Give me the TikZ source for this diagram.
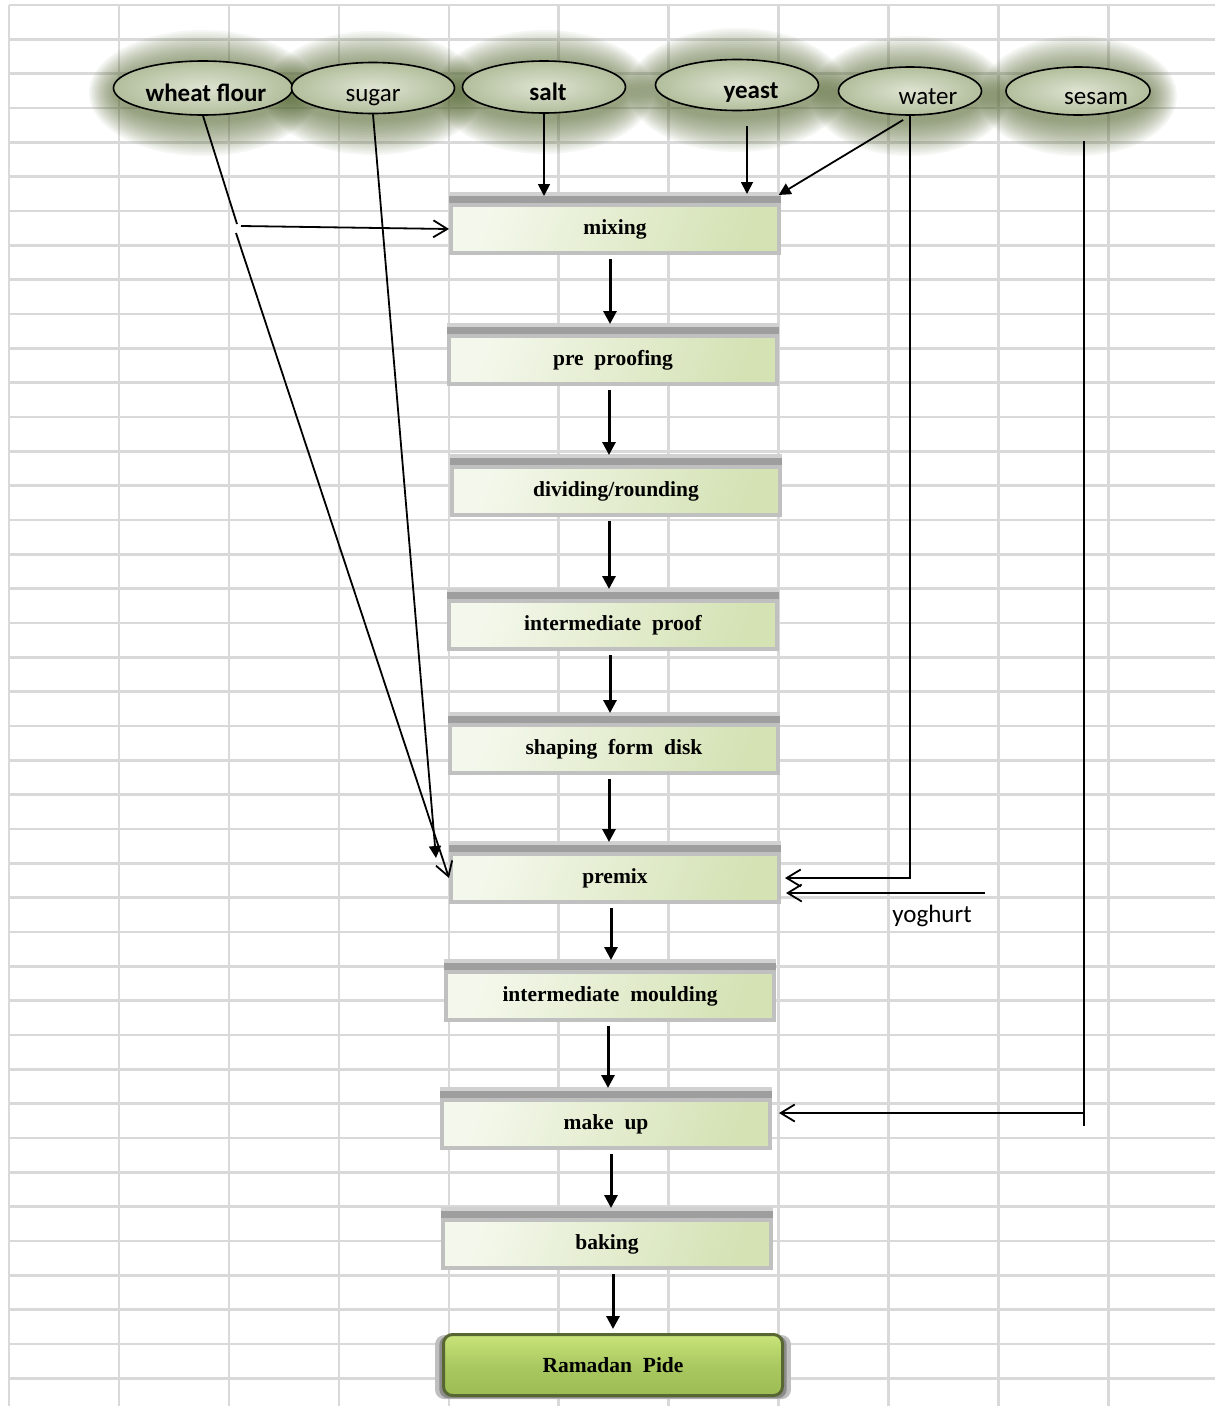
\documentclass[tikz,border=0pt]{standalone}
\usepackage{fontspec}
\setmainfont{Liberation Serif}
\newfontfamily\ingfont{Carlito}
\usetikzlibrary{arrows.meta,shapes.geometric,shadows,backgrounds}

\definecolor{gridgray}{RGB}{217,217,217}
\definecolor{haloolive}{RGB}{92,110,58}
\definecolor{ovalin}{RGB}{222,228,210}
\definecolor{ovalout}{RGB}{178,190,156}
\definecolor{boxedge}{RGB}{192,192,192}
\definecolor{boxlight}{RGB}{244,248,236}
\definecolor{boxdark}{RGB}{212,226,180}
\definecolor{pidetop}{RGB}{200,228,122}
\definecolor{pidemid}{RGB}{170,201,96}
\definecolor{pidebot}{RGB}{156,188,84}
\definecolor{pideedge}{RGB}{88,102,52}

\begin{document}
\begin{tikzpicture}[
  x=1pt, y=-1pt,
  gridline/.style={draw=gridgray,line width=2.6pt},
  ingredient/.style={ellipse,draw,line width=1.6pt,inner sep=0pt,
    inner color=ovalin,outer color=ovalout,
    text height=26pt,text depth=0pt,
    font=\ingfont\fontsize{25}{28}\selectfont},
  stage/.style={rectangle,draw=boxedge,line width=4pt,inner sep=0pt,
    minimum width=328pt,minimum height=48pt,
    top color=boxlight,bottom color=boxdark,shading angle=70,
    font=\bfseries\fontsize{21.5}{24}\selectfont,
    general shadow={fill=black!18,shadow scale=1.012,shadow yshift=13pt},
    general shadow={fill=black!38,shadow scale=1.012,shadow yshift=9pt}},
  product/.style={rectangle,rounded corners=9pt,draw=pideedge,line width=3pt,
    inner sep=0pt,minimum width=339pt,minimum height=61pt,
    top color=pidetop,bottom color=pidebot,middle color=pidemid,
    font=\bfseries\fontsize{21.5}{24}\selectfont,
    general shadow={fill=black!25,shadow scale=1.05,shadow yshift=-2pt},
    general shadow={fill=black!45,shadow scale=1.025,shadow yshift=-2pt}},
  flow/.style={-{Triangle[length=13pt,width=13pt]},line width=3pt,
    shorten <=4pt,shorten >=10pt},
  feed/.style={-{Triangle[length=12pt,width=12pt]},line width=1.8pt},
  addin/.style={-{Straight Barb[length=14pt,width=17pt]},line width=1.8pt},
  wire/.style={line width=1.8pt}
]
  \useasboundingbox (0,0) rectangle (1215,1406);

  % ingredients
  \node[ingredient,minimum width=173pt,minimum height=54pt] (flour) at (203,88) {\hspace*{6pt}\bfseries wheat flour};
  \node[ingredient,minimum width=163pt,minimum height=51pt] (sugar) at (373,88) {sugar};
  \node[ingredient,minimum width=163pt,minimum height=52pt] (salt) at (544,87) {\hspace*{8pt}\bfseries salt};
  \node[ingredient,minimum width=163pt,minimum height=51pt] (yeast) at (737,85) {\hspace*{28pt}\bfseries yeast};
  \node[ingredient,minimum width=143pt,minimum height=48pt] (water) at (910,91) {\hspace*{36pt}water};
  \node[ingredient,minimum width=144pt,minimum height=48pt] (sesam) at (1078,91) {\hspace*{36pt}sesam};

  % process steps
  \node[stage] (mixing) at (615,229) {mixing};
  \node[stage] (preproof) at (613,360) {pre~~proofing};
  \node[stage] (dividing) at (616,491) {dividing/rounding};
  \node[stage] (interproof) at (613,625) {intermediate~~proof};
  \node[stage] (shaping) at (614,749) {shaping~~form~~disk};
  \node[stage] (premix) at (615,878) {premix};
  \node[stage] (moulding) at (610,996) {intermediate~~moulding};
  \node[stage] (makeup) at (606,1124) {make~~up};
  \node[stage] (baking) at (607,1244) {baking};
  \node[product] (pide) at (613,1365) {Ramadan~~Pide};

  \node[font=\ingfont\fontsize{25}{28}\selectfont] (yoghurt) at (932,916) {yoghurt};

  \coordinate (flourbend) at (237,224);
  \coordinate (flourmix) at (241,226);
  \coordinate (flourpre) at (236,233);
  \coordinate (yogsrc) at (985,893);
  \coordinate (sesamjoin) at (1084,1113);
  \coordinate (sesamfoot) at (1084,1126);

  % main line
  \draw[flow] ([xshift=-5pt]mixing.south) -- ([xshift=-5pt]mixing.south |- preproof.north);
  \draw[flow] ([xshift=-4pt]preproof.south) -- ([xshift=-4pt]preproof.south |- dividing.north);
  \draw[flow] ([xshift=-7pt]dividing.south) -- ([xshift=-7pt]dividing.south |- interproof.north);
  \draw[flow] ([xshift=-3pt]interproof.south) -- ([xshift=-3pt]interproof.south |- shaping.north);
  \draw[flow] ([xshift=-5pt]shaping.south) -- ([xshift=-5pt]shaping.south |- premix.north);
  \draw[flow] ([xshift=-4pt]premix.south) -- ([xshift=-4pt]premix.south |- moulding.north);
  \draw[flow] ([xshift=-2pt]moulding.south) -- ([xshift=-2pt]moulding.south |- makeup.north);
  \draw[flow] ([xshift=5pt]makeup.south) -- ([xshift=5pt]makeup.south |- baking.north);
  \draw[flow,shorten >=4pt] ([xshift=6pt]baking.south) -- ([xshift=6pt]baking.south |- pide.north);

  % ingredients in
  \draw[feed,shorten >=7pt] (salt.south) -- (salt.south |- mixing.north);
  \draw[feed,shorten <=15pt,shorten >=9pt] ([xshift=10pt]yeast.south) -- ([xshift=10pt]yeast.south |- mixing.north);
  \draw[feed,shorten <=8pt,shorten >=2pt] (water.south) -- ([xshift=-4pt,yshift=7pt]mixing.north east);
  \draw[addin,shorten >=4pt] (water.south) |- (premix.east);
  \draw[addin,shorten >=5pt] (yogsrc) -- (yogsrc -| premix.east);
  \draw[wire,shorten <=25pt] (sesam.south -| sesamfoot) -- (sesamfoot);
  \draw[addin,shorten >=7pt] (sesamjoin) -- (sesamjoin -| makeup.east);
  \draw[feed] (sugar.south) -- ([xshift=-13pt,yshift=-6pt]premix.north west);
  \draw[wire] (flour.south) -- (flourbend);
  \draw[addin] (flourmix) -- (mixing.west);
  \draw[addin] (flourpre) -- (premix.west);

  \begin{scope}[on background layer]
    \fill[white] (0,0) rectangle (1215,1406);
    \foreach \gx in {0,...,10}
      \draw[gridline] ({9+109.95*\gx},5) -- ({9+109.95*\gx},1406);
    \foreach \gy in {0,...,40}
      \draw[gridline] (9,{5+34.33*\gy}) -- (1215,{5+34.33*\gy});
    % glow round the ingredients
    \foreach \oval/\rx/\ry in {flour/87/27,sugar/82/26,salt/82/26,yeast/82/26,water/72/24,sesam/72/24}
      \foreach \g in {2,4,...,36}
        \fill[haloolive,opacity=0.05] ([yshift=-5pt]\oval.center)
          ellipse [x radius={(\rx+\g*0.75)*1pt},y radius={(\ry+\g)*1pt}];
  \end{scope}
\end{tikzpicture}
\end{document}
